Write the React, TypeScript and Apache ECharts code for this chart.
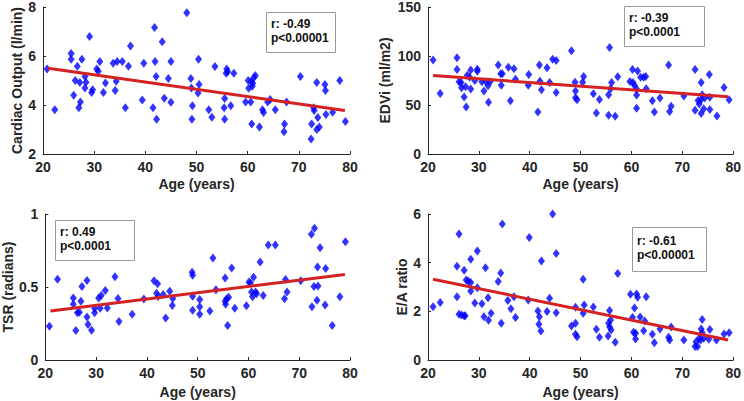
import React, { useEffect, useRef } from "react";
import * as echarts from "echarts";

// ---- Data (age in years, value) ----
const coData: [number, number][] = [
  [20.8, 5.47], [22.3, 3.81], [25.5, 6.1], [25.5, 5.87], [26.7, 5.58], [26.0, 4.4], [26.3, 5.0], [27.2, 4.92],
  [27.6, 5.87], [27.0, 3.89], [27.3, 4.12], [28.2, 5.16], [28.4, 4.93], [28.2, 4.69], [29.1, 6.8], [29.7, 4.62],
  [29.5, 4.51], [30.5, 5.47], [30.8, 5.38], [31.1, 5.78], [31.8, 4.51], [32.2, 4.9], [33.7, 5.7], [34.5, 5.78],
  [34.3, 4.97], [34.1, 4.59], [35.5, 5.78], [36.1, 3.89], [36.7, 5.58], [37.1, 6.41], [39.4, 4.2], [39.7, 5.7],
  [41.5, 3.89], [41.8, 7.16], [41.9, 5.78], [42.1, 5.16], [42.2, 3.42], [43.3, 6.58], [43.7, 4.28], [44.5, 5.08],
  [45.0, 5.78], [45.0, 4.11], [48.1, 7.77], [48.9, 5.08], [49.0, 4.69], [49.2, 3.97], [49.1, 3.42], [50.4, 5.87],
  [50.5, 4.84], [50.3, 4.49], [53.6, 5.57], [52.4, 3.81], [53.0, 3.5], [55.9, 5.47], [56.1, 5.36], [55.8, 5.3],
  [57.3, 5.3], [55.5, 4.27], [55.4, 3.89], [55.5, 3.42], [56.7, 3.97], [59.6, 4.12], [60.1, 5.0], [60.2, 4.68],
  [60.7, 4.96], [61.0, 4.89], [61.2, 5.11], [61.5, 5.2], [60.9, 4.77], [60.6, 4.12], [60.8, 3.22], [62.3, 3.1],
  [62.9, 3.81], [63.1, 3.69], [63.9, 4.12], [64.4, 4.22], [65.4, 3.81], [67.2, 3.22], [67.1, 2.91], [67.6, 4.12],
  [70.3, 5.16], [72.5, 3.22], [72.4, 2.61], [72.9, 3.89], [73.0, 3.78], [73.5, 4.92], [73.7, 3.49], [73.5, 3.0],
  [74.0, 3.1], [75.1, 4.84], [75.2, 4.59], [75.3, 3.61], [76.6, 3.7], [78.0, 5.0], [79.1, 3.33],
];

const edviData: [number, number][] = [
  [21.0, 96], [22.4, 61.8], [25.7, 98.3], [25.7, 86.1], [26.1, 73.7], [26.6, 67.6], [26.5, 73], [27.4, 68.6],
  [27.1, 58.1], [27.5, 48], [27.7, 80.4], [28.2, 78.4], [28.4, 85.8], [28.4, 66.2], [29.2, 75], [29.7, 86.5],
  [29.7, 84.4], [30.6, 73.7], [31.0, 64.2], [31.4, 73.7], [31.8, 69.6], [31.9, 52.7], [32.2, 73.7], [33.8, 90.9],
  [34.3, 81.8], [34.6, 81.8], [34.4, 70.2], [35.8, 88.5], [36.2, 54.4], [36.9, 86.9], [37.2, 76.3], [39.7, 70.2],
  [39.8, 81.1], [41.6, 42.9], [41.9, 90.9], [42.0, 74.3], [42.3, 65.6], [43.4, 87.9], [43.9, 73], [44.5, 96.6],
  [45.2, 95.3], [45.2, 62.8], [48.2, 105.4], [48.9, 73.3], [49.0, 64.2], [49.0, 57.5], [49.3, 55.4], [50.6, 79],
  [50.4, 73.3], [53.1, 41.9], [53.7, 55.7], [52.5, 61.5], [55.7, 108.8], [55.5, 39.5], [56.8, 38.5], [55.5, 60.5],
  [55.9, 66.6], [56.1, 73], [57.3, 78.7], [59.7, 74], [60.2, 86.1], [60.3, 73], [60.6, 69.9], [61.0, 66.2],
  [61.2, 84.8], [61.0, 60.1], [61.0, 46.6], [61.8, 78.4], [62.4, 78.2], [62.8, 79], [62.9, 66.6], [64.1, 54.4],
  [64.5, 42.9], [65.6, 57.1], [67.3, 90.9], [67.5, 43.3], [67.8, 48.6], [70.3, 59.1], [72.5, 86.1], [72.5, 44.6],
  [73.7, 73], [73.1, 54.7], [73.3, 51], [73.9, 60.5], [73.7, 55.4], [73.7, 41.2], [74.2, 46.3], [74.4, 57.1],
  [75.3, 81.1], [75.4, 57.8], [75.4, 45.3], [76.8, 38.8], [78.2, 67.9], [79.2, 55.4],
];

const tsrData: [number, number][] = [
  [20.8, 0.231], [22.4, 0.553], [25.5, 0.424], [25.5, 0.381], [27.2, 0.503], [27.0, 0.403], [26.3, 0.324], [26.7, 0.327],
  [26.0, 0.202], [28.2, 0.544], [28.2, 0.295], [28.4, 0.243], [29.1, 0.204], [29.7, 0.324], [29.7, 0.354], [30.5, 0.424],
  [31.0, 0.442], [31.8, 0.476], [30.8, 0.354], [32.2, 0.356], [33.7, 0.571], [34.3, 0.422], [34.5, 0.263], [37.1, 0.313],
  [39.4, 0.417], [41.4, 0.542], [42.1, 0.522], [41.9, 0.458], [42.2, 0.435], [43.2, 0.449], [43.7, 0.288], [44.5, 0.471],
  [45.1, 0.422], [45.0, 0.374], [48.9, 0.601], [49.0, 0.58], [49.0, 0.437], [49.0, 0.34], [50.4, 0.415], [50.4, 0.365],
  [50.4, 0.313], [52.4, 0.336], [53.0, 0.698], [53.6, 0.481], [55.4, 0.562], [55.4, 0.403], [55.7, 0.42], [56.1, 0.43],
  [55.5, 0.381], [55.9, 0.236], [56.7, 0.63], [57.3, 0.354], [59.6, 0.372], [60.1, 0.535], [60.4, 0.528], [61.0, 0.567],
  [60.6, 0.465], [60.8, 0.433], [61.4, 0.465], [61.6, 0.454], [62.3, 0.671], [62.9, 0.442], [63.9, 0.787], [65.3, 0.787],
  [67.3, 0.551], [67.6, 0.465], [67.1, 0.42], [70.3, 0.542], [72.4, 0.862], [73.0, 0.903], [74.1, 0.769], [73.6, 0.637],
  [72.9, 0.503], [73.7, 0.506], [73.5, 0.41], [72.5, 0.365], [75.2, 0.626], [75.1, 0.376], [76.5, 0.236], [78.0, 0.433],
  [79.1, 0.81],
];

const eaData: [number, number][] = [
  [21.0, 2.19], [22.4, 2.36], [25.7, 2.6], [25.7, 3.85], [26.1, 5.18], [26.1, 1.88], [26.6, 1.85], [27.1, 1.82],
  [27.3, 1.82], [27.1, 3.69], [27.5, 3.29], [27.9, 3.25], [28.4, 3.19], [28.4, 4.14], [28.4, 2.84], [29.2, 2.34],
  [29.7, 4.48], [29.7, 2.97], [30.6, 2.31], [31.3, 3.79], [31.0, 1.78], [31.8, 2.56], [31.9, 1.63], [32.4, 1.92],
  [33.8, 3.23], [34.3, 3.58], [34.4, 1.51], [34.6, 5.59], [35.7, 2.45], [36.3, 2.11], [36.9, 2.6], [37.2, 1.75],
  [39.7, 2.47], [39.9, 5.03], [41.6, 2.01], [41.9, 1.78], [41.8, 1.47], [42.2, 1.19], [42.3, 4.07], [43.4, 1.99],
  [43.9, 2.54], [44.5, 6.0], [45.2, 4.38], [45.2, 1.94], [48.2, 1.4], [49.0, 2.17], [49.0, 1.51], [49.0, 1.06],
  [49.3, 0.96], [50.5, 3.32], [50.7, 2.26], [50.5, 1.92], [52.5, 2.18], [53.1, 1.26], [53.7, 0.93], [55.4, 0.99],
  [55.7, 2.03], [55.5, 1.51], [55.9, 1.64], [55.7, 1.36], [56.0, 1.23], [56.8, 0.73], [57.3, 3.55], [59.8, 2.7],
  [61.0, 2.71], [61.2, 2.58], [62.9, 2.6], [60.2, 1.75], [60.6, 2.14], [60.4, 1.14], [60.8, 1.1], [60.8, 0.86],
  [61.7, 1.77], [62.4, 1.2], [62.6, 1.6], [64.1, 1.06], [64.5, 0.71], [65.6, 1.27], [67.3, 0.93], [67.5, 0.82],
  [67.8, 1.36], [70.3, 0.82], [72.5, 0.55], [73.0, 0.55], [72.7, 0.75], [73.9, 1.66], [73.7, 1.27], [73.9, 1.12],
  [73.3, 0.89], [73.6, 0.82], [74.2, 0.89], [75.4, 1.25], [75.2, 0.85], [76.7, 0.82], [78.2, 1.07], [79.2, 1.12],
];

// regression line endpoints
const coFit: [number, number][] = [[21, 5.5], [79, 3.78]];
const edviFit: [number, number][] = [[21, 80], [79, 58.5]];
const tsrFit: [number, number][] = [[21, 0.335], [79, 0.585]];
const eaFit: [number, number][] = [[21, 3.32], [79, 0.82]];

const yTitles = ["Cardiac Output (l/min)", "EDVi (ml/m2)", "TSR (radians)", "E/A ratio"];
const xTitle = "Age (years)";
const stats = [
  ["r: -0.49", "p<0.00001"],
  ["r: -0.39", "p<0.0001"],
  ["r: 0.49", "p<0.0001"],
  ["r: -0.61", "p<0.00001"],
];
const yRanges = [
  { min: 2, max: 8, interval: 2 },
  { min: 0, max: 150, interval: 50 },
  { min: 0, max: 1, interval: 0.5 },
  { min: 0, max: 6, interval: 2 },
];

const FONT = '"Liberation Sans", Arial, Helvetica, sans-serif';
const AXIS_COLOR = "#262626";

export default function App() {
  const ref = useRef<HTMLDivElement>(null);
  useEffect(() => {
    if (!ref.current) return;
    const chart = echarts.init(ref.current, undefined, { renderer: "svg" });

    const grids = [
      { left: 43, top: 6, width: 307, height: 148 },
      { left: 428, top: 6, width: 306, height: 148 },
      { left: 43, top: 214, width: 307, height: 146 },
      { left: 428, top: 214, width: 306, height: 146 },
    ];
    const xNameGap = [23, 23, 25, 25];
    const yNameGap = [15, 36, 28, 17];
    const boxes = [
      { x: 266, y: 12, w: 69, h: 40 },
      { x: 624, y: 6, w: 80, h: 40 },
      { x: 55, y: 220, w: 79, h: 40 },
      { x: 632, y: 227, w: 74, h: 44 },
    ];

    const xAxis = grids.map((_, i) => ({
      type: "value",
      gridIndex: i,
      min: 20,
      max: 80,
      interval: 10,
      name: xTitle,
      nameLocation: "middle",
      nameGap: xNameGap[i],
      nameTextStyle: { fontFamily: FONT, fontWeight: "bold", fontSize: 14, color: AXIS_COLOR },
      axisLine: { lineStyle: { color: AXIS_COLOR, width: 1 } },
      axisTick: { inside: true, length: 3, lineStyle: { color: AXIS_COLOR } },
      axisLabel: { fontFamily: FONT, fontWeight: "bold", fontSize: 14, color: AXIS_COLOR, margin: 6 },
      splitLine: { show: false },
    }));
    const yAxis = grids.map((_, i) => ({
      type: "value",
      gridIndex: i,
      ...yRanges[i],
      name: yTitles[i],
      nameLocation: "middle",
      nameGap: yNameGap[i],
      nameTextStyle: { fontFamily: FONT, fontWeight: "bold", fontSize: 14, color: AXIS_COLOR },
      axisLine: { show: true, lineStyle: { color: AXIS_COLOR, width: 1 } },
      axisTick: { show: true, inside: true, length: 3, lineStyle: { color: AXIS_COLOR } },
      axisLabel: { fontFamily: FONT, fontWeight: "bold", fontSize: 14, color: AXIS_COLOR, margin: 7 },
      splitLine: { show: false },
    }));

    const datasets = [coData, edviData, tsrData, eaData];
    const fits = [coFit, edviFit, tsrFit, eaFit];
    const series: any[] = [];
    datasets.forEach((d, i) => {
      series.push({
        type: "scatter",
        xAxisIndex: i,
        yAxisIndex: i,
        data: d,
        symbol: "diamond",
        symbolSize: [7, 9],
        itemStyle: { color: "#0000ff" },
      });
    });
    fits.forEach((d, i) => {
      series.push({
        type: "line",
        xAxisIndex: i,
        yAxisIndex: i,
        data: d,
        symbol: "none",
        lineStyle: { color: "#d42222", width: 3 },
        z: 3,
      });
    });

    const graphic = boxes.map((b, i) => ({
      type: "group",
      children: [
        {
          type: "rect",
          shape: { x: b.x + 0.5, y: b.y + 0.5, width: b.w, height: b.h },
          style: { fill: "#ffffff", stroke: "#9a9a9a", lineWidth: 1 },
          z: 10,
        },
        {
          type: "text",
          x: b.x + 5,
          y: b.y + b.h / 2 - 1,
          style: {
            text: stats[i].join("\n"),
            fontFamily: FONT,
            fontWeight: "bold",
            fontSize: 12,
            lineHeight: 14,
            fill: "#111111",
            verticalAlign: "middle",
          },
          z: 11,
        },
      ],
    }));

    chart.setOption({
      animation: false,
      backgroundColor: "#ffffff",
      grid: grids,
      xAxis,
      yAxis,
      series,
      graphic,
    } as any);
    return () => chart.dispose();
  }, []);
  return (
    <div
      ref={ref}
      style={{ position: "fixed", left: 0, top: 0, width: 744, height: 401, background: "#fff" }}
    />
  );
}
